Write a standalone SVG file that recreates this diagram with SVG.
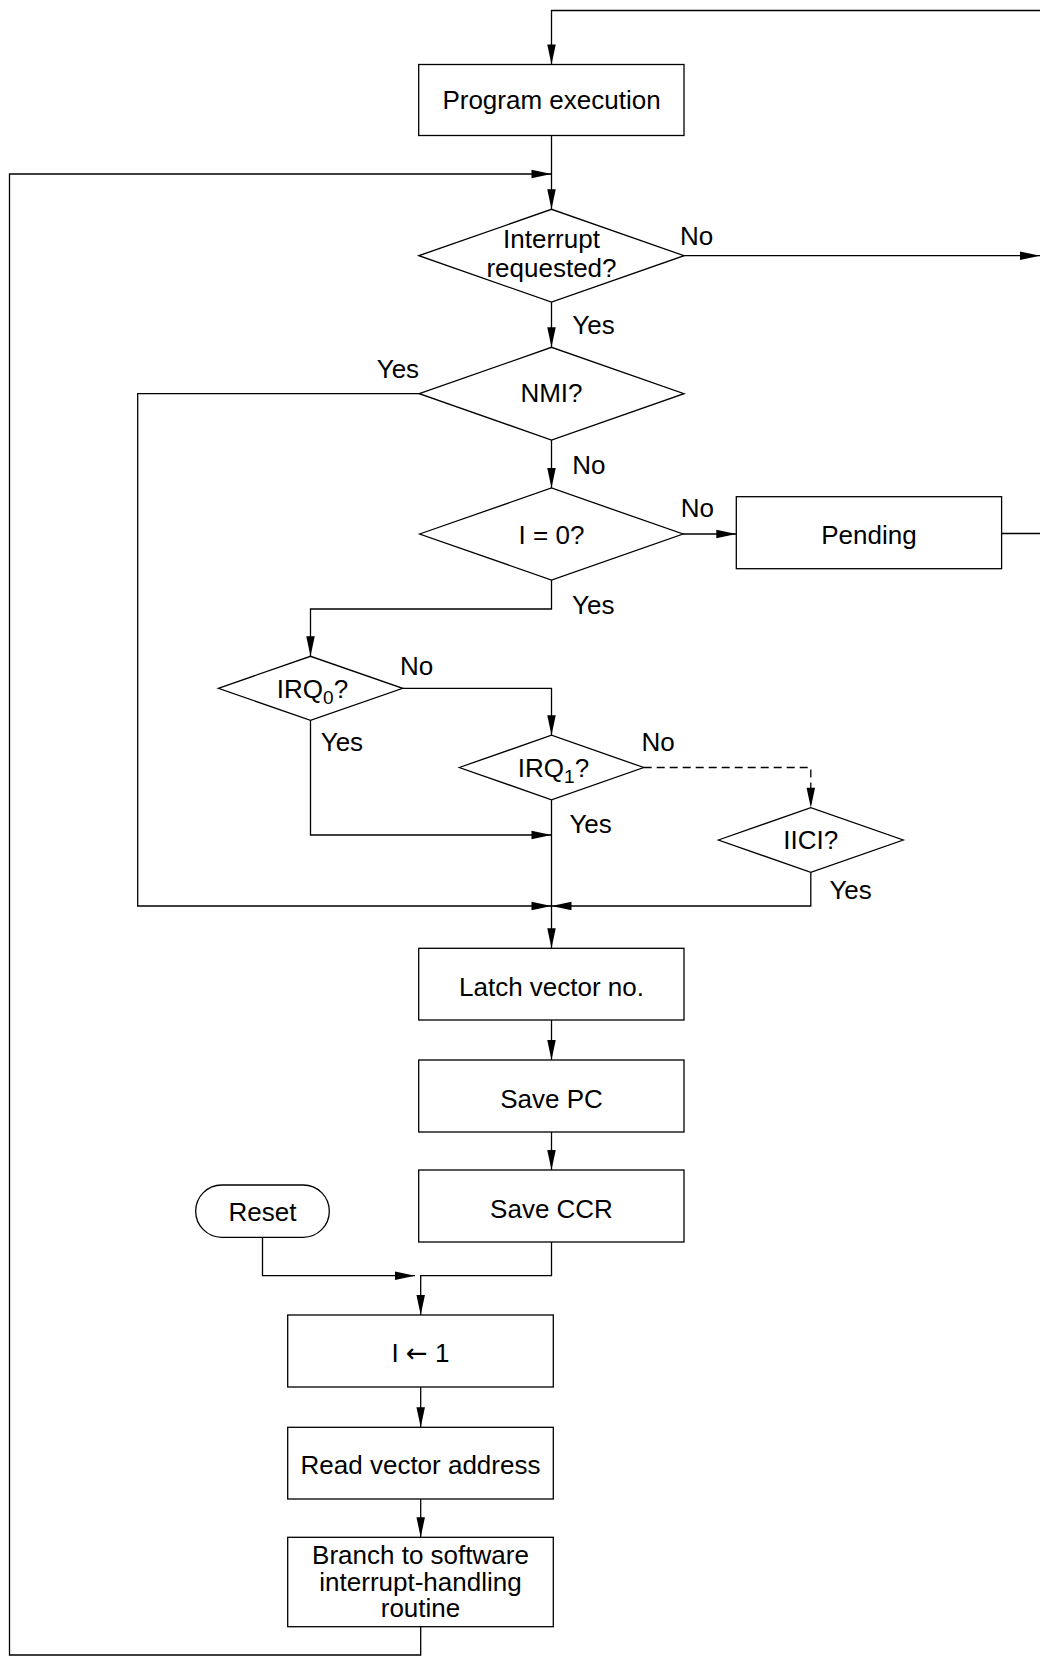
<svg xmlns="http://www.w3.org/2000/svg" width="1040" height="1657" viewBox="0 0 1040 1657">
<style>
  .shape { fill: #fff; stroke: #000; stroke-width: 1.3; }
  .conn { fill: none; stroke: #000; stroke-width: 1.3; }
  .dash { stroke-dasharray: 8 5; }
  text { font-family: "Liberation Sans", Arial, sans-serif; font-size: 26px; fill: #000; }
  .c { text-anchor: middle; }
  .arrowglyph { font-family: "DejaVu Sans", sans-serif; font-size: 26px; }
</style>
<defs>
  <marker id="arr" markerUnits="userSpaceOnUse" markerWidth="20" markerHeight="9" refX="20" refY="4.25" orient="auto" overflow="visible">
    <path d="M0,0 L20,4.25 L0,8.5 Z" fill="#000"/>
  </marker>
</defs>
<rect width="1040" height="1657" fill="#fff"/>

<g id="connectors">
  <path class="conn" d="M1001.6,533.5 H1042 V10.5 H551.5 V64.5" marker-end="url(#arr)"/>
  <path class="conn" d="M551.5,135.5 V209.3" marker-end="url(#arr)"/>
  <path class="conn" d="M420.7,1626.7 V1655 H9.5 V174 H551.5" marker-end="url(#arr)"/>
  <path class="conn" d="M684.1,255.7 H1040" marker-end="url(#arr)"/>
  <path class="conn" d="M551.5,302.1 V347.3" marker-end="url(#arr)"/>
  <path class="conn" d="M551.5,440 V488" marker-end="url(#arr)"/>
  <path class="conn" d="M683,534 H736.3" marker-end="url(#arr)"/>
  <path class="conn" d="M551.5,580 V609 H310.5 V656.3" marker-end="url(#arr)"/>
  <path class="conn" d="M402.7,688.3 H551.5 V735.2" marker-end="url(#arr)"/>
  <path class="conn dash" d="M643.7,767.5 H810.8 V807.7" marker-end="url(#arr)"/>
  <path class="conn" d="M310.5,720.3 V835 H551.5" marker-end="url(#arr)"/>
  <path class="conn" d="M419.3,393.7 H137.7 V906 H551.5" marker-end="url(#arr)"/>
  <path class="conn" d="M810.8,872.3 V906 H551.5" marker-end="url(#arr)"/>
  <path class="conn" d="M551.5,799.8 V948.3" marker-end="url(#arr)"/>
  <path class="conn" d="M551.5,1020 V1060" marker-end="url(#arr)"/>
  <path class="conn" d="M551.5,1132 V1170" marker-end="url(#arr)"/>
  <path class="conn" d="M551.5,1242 V1275.7 H420.7 V1315" marker-end="url(#arr)"/>
  <path class="conn" d="M262.5,1237.3 V1275.7 H415" marker-end="url(#arr)"/>
  <path class="conn" d="M420.7,1387 V1427.3" marker-end="url(#arr)"/>
  <path class="conn" d="M420.7,1499 V1537.3" marker-end="url(#arr)"/>
</g>

<g id="labels">
  <text x="680" y="245">No</text>
  <text x="572.3" y="334">Yes</text>
  <text x="376.7" y="377.7">Yes</text>
  <text x="572.3" y="474.3">No</text>
  <text x="680.8" y="517">No</text>
  <text x="572" y="614">Yes</text>
  <text x="400" y="675">No</text>
  <text x="320.7" y="750.7">Yes</text>
  <text x="641.6" y="750.7">No</text>
  <text x="569.4" y="832.7">Yes</text>
  <text x="829.4" y="899.3">Yes</text>
</g>

<g id="program-execution">
  <rect class="shape" x="418.7" y="64.5" width="265.3" height="71"/>
  <text class="c" x="551.5" y="109.3">Program execution</text>
</g>
<g id="interrupt-requested">
  <polygon class="shape" points="418.9,255.7 551.5,209.3 684.1,255.7 551.5,302.1"/>
  <text class="c" x="551.5" y="248.3">Interrupt</text>
  <text class="c" x="551.5" y="277.3">requested?</text>
</g>
<g id="nmi">
  <polygon class="shape" points="419.3,393.7 551.5,347.3 684,393.7 551.5,440"/>
  <text class="c" x="551.5" y="402.3">NMI?</text>
</g>
<g id="i-zero">
  <polygon class="shape" points="419.6,534 551.5,488 683,534 551.5,580"/>
  <text class="c" x="551.5" y="544">I = 0?</text>
</g>
<g id="pending">
  <rect class="shape" x="736.3" y="496.7" width="265.3" height="72"/>
  <text class="c" x="869" y="544">Pending</text>
</g>
<g id="irq0">
  <polygon class="shape" points="218.3,688.3 310.5,656.3 402.7,688.3 310.5,720.3"/>
  <text class="c" x="312.5" y="698.3">IRQ<tspan font-size="19" dy="6">0</tspan><tspan dy="-6">?</tspan></text>
</g>
<g id="irq1">
  <polygon class="shape" points="459.3,767.5 551.5,735.2 643.7,767.5 551.5,799.8"/>
  <text class="c" x="553.5" y="776.7">IRQ<tspan font-size="19" dy="6">1</tspan><tspan dy="-6">?</tspan></text>
</g>
<g id="iici">
  <polygon class="shape" points="718.4,840 810.8,807.7 903.2,840 810.8,872.3"/>
  <text class="c" x="810.8" y="849.3">IICI?</text>
</g>
<g id="latch-vector">
  <rect class="shape" x="418.7" y="948.3" width="265.3" height="71.7"/>
  <text class="c" x="551.5" y="996">Latch vector no.</text>
</g>
<g id="save-pc">
  <rect class="shape" x="418.7" y="1060" width="265.3" height="72"/>
  <text class="c" x="551.5" y="1108.3">Save PC</text>
</g>
<g id="save-ccr">
  <rect class="shape" x="418.7" y="1170" width="265.3" height="72"/>
  <text class="c" x="551.5" y="1217.7">Save CCR</text>
</g>
<g id="reset">
  <rect class="shape" x="195.7" y="1185" width="133.6" height="52.3" rx="26.1" ry="26.1"/>
  <text class="c" x="262.5" y="1220.7">Reset</text>
</g>
<g id="set-i">
  <rect class="shape" x="287.7" y="1315" width="265.6" height="72"/>
  <text class="c" x="420.5" y="1361.7">I <tspan class="arrowglyph">←</tspan> 1</text>
</g>
<g id="read-vector">
  <rect class="shape" x="287.7" y="1427.3" width="265.6" height="71.7"/>
  <text class="c" x="420.5" y="1474.3">Read vector address</text>
</g>
<g id="branch">
  <rect class="shape" x="287.7" y="1537.3" width="265.6" height="89.4"/>
  <text class="c" x="420.5" y="1564.3">Branch to software</text>
  <text class="c" x="420.5" y="1590.8">interrupt-handling</text>
  <text class="c" x="420.5" y="1616.7">routine</text>
</g>
</svg>
